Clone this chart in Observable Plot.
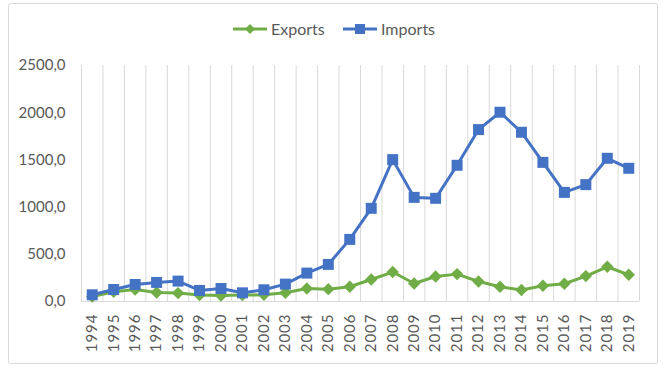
<!DOCTYPE html>
<html><head><meta charset="utf-8">
<script src="https://cdn.jsdelivr.net/npm/d3@7"></script>
<script src="https://cdn.jsdelivr.net/npm/@observablehq/plot@0.6"></script>
<style>
body{margin:0;background:#fff}
#chart{position:relative;width:664px;height:371px}
g[aria-label="x-axis tick label"] text{letter-spacing:1px}
</style>
</head><body><div id="chart"></div>
<script>
const years = [1994,1995,1996,1997,1998,1999,2000,2001,2002,2003,2004,2005,2006,2007,2008,2009,2010,2011,2012,2013,2014,2015,2016,2017,2018,2019];
const exportsValues = [53,103,127,95,89,68,64,68,71,92,138,131,156,233,312,191,265,290,212,156,121,166,188,269,368,283];
const importsValues = [71,127,180,202,216,117,138,92,124,184,301,393,658,987,1503,1103,1093,1443,1821,2005,1793,1474,1156,1238,1517,1411];
const seriesNames = ["Exports","Imports"];
const seriesColors = ["#70AD47","#4472C4"];
const yTicks = [0,500,1000,1500,2000,2500];

const exportsData = years.map((yr,i)=>({year:yr, value:exportsValues[i]}));
const importsData = years.map((yr,i)=>({year:yr, value:importsValues[i]}));
const gridPositions = years.map(y=>y-0.5).concat([years[years.length-1]+0.5]);

const plot = Plot.plot({
  width:664, height:371,
  marginLeft:81, marginRight:25, marginTop:65, marginBottom:70,
  style:{fontFamily:"Lato, sans-serif", fontSize:"15px", color:"#595959", background:"white"},
  x:{type:"linear", domain:[years[0]-0.5, years[years.length-1]+0.5]},
  y:{domain:[yTicks[0], yTicks[yTicks.length-1]]},
  marks:[
    Plot.ruleX(gridPositions,{stroke:"#d9d9d9", strokeWidth:1, y1:yTicks[0], y2:yTicks[yTicks.length-1]}),
    Plot.ruleY([yTicks[0]],{stroke:"#d9d9d9", strokeWidth:1}),
    Plot.axisY({ticks:yTicks, tickSize:0, tickPadding:16, label:null, fill:"#595959",
      tickFormat:d=>d.toFixed(1).replace(".",",")}),
    Plot.axisX({ticks:years, tickSize:0, tickRotate:-90, tickPadding:12, label:null, fill:"#595959",
      tickFormat:d=>String(d)}),
    Plot.line(exportsData,{x:"year", y:"value", stroke:seriesColors[0], strokeWidth:3}),
    Plot.dot(exportsData,{x:"year", y:"value", symbol:"diamond2", r:5.6, fill:seriesColors[0], stroke:"none"}),
    Plot.line(importsData,{x:"year", y:"value", stroke:seriesColors[1], strokeWidth:3}),
    Plot.dot(importsData,{x:"year", y:"value", symbol:"square", r:6.2, fill:seriesColors[1], stroke:"none"})
  ]
});
document.getElementById("chart").appendChild(plot);

const svg = d3.select(plot);
svg.append("rect").attr("x",8.5).attr("y",3.5).attr("width",649).attr("height",360)
  .attr("rx",2).attr("fill","none").attr("stroke","#d9d9d9");

// legend
const legendItems = [
  {name:seriesNames[0], color:seriesColors[0], x:233, sym:"diamond"},
  {name:seriesNames[1], color:seriesColors[1], x:343, sym:"square"}
];
const lg = svg.append("g").attr("font-family","Lato, sans-serif").attr("font-size",16)
  .attr("fill","#595959").attr("text-anchor","start");
legendItems.forEach(it=>{
  lg.append("line").attr("x1",it.x).attr("x2",it.x+34).attr("y1",29).attr("y2",29)
    .attr("stroke",it.color).attr("stroke-width",3);
  if(it.sym==="diamond"){
    lg.append("path").attr("d",`M${it.x+17},${29-5}L${it.x+22},29L${it.x+17},${29+5}L${it.x+12},29Z`).attr("fill",it.color);
  } else {
    lg.append("rect").attr("x",it.x+17-5).attr("y",29-5).attr("width",10).attr("height",10).attr("fill",it.color);
  }
  lg.append("text").attr("x",it.x+38).attr("y",29).attr("dy","0.35em").attr("text-anchor","start").text(it.name);
});
</script>
</body></html>
